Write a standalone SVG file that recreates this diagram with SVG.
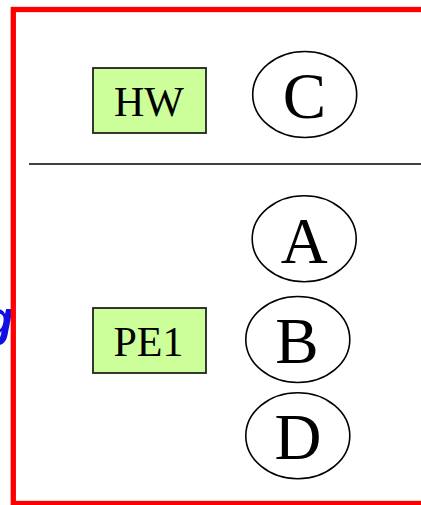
<svg xmlns="http://www.w3.org/2000/svg" width="421" height="505" viewBox="0 0 421 505">
  <style>
    .box { fill: #ccff99; stroke: #222; stroke-width: 1.8; }
    .boxlabel { font-family: "Liberation Serif", "Times New Roman", serif; font-size: 42px; fill: #000; text-anchor: middle; }
    .oval { fill: #fff; stroke: #000; stroke-width: 1.6; }
    .ovallabel { font-family: "Liberation Serif", "Times New Roman", serif; font-size: 65px; fill: #000; text-anchor: middle; }
  </style>
  <rect width="421" height="505" fill="#fff"/>

  <!-- stray blue mark at the left margin -->
  <text x="-17" y="336" font-family="Liberation Sans, Arial, sans-serif" font-style="italic" font-weight="bold" font-size="50" fill="#1010e0">g</text>

  <!-- red frame -->
  <rect x="13.3" y="9.5" width="420" height="494" fill="none" stroke="#ff0000" stroke-width="5.3"/>

  <!-- divider -->
  <g id="connectors">
    <line x1="29" y1="164" x2="421" y2="164" stroke="#000" stroke-width="1.6"/>
  </g>

  <g id="hw">
    <rect class="box" x="93" y="68" width="113" height="65"/>
    <text class="boxlabel" x="149" y="116">HW</text>
  </g>
  <g id="pe1">
    <rect class="box" x="93" y="308" width="113" height="65"/>
    <text class="boxlabel" x="148.5" y="355.5">PE1</text>
  </g>

  <g id="c">
    <ellipse class="oval" cx="304.7" cy="94.5" rx="52" ry="43"/>
    <text class="ovallabel" x="304.5" y="118">C</text>
  </g>
  <g id="a">
    <ellipse class="oval" cx="304.2" cy="238.7" rx="52" ry="43"/>
    <text class="ovallabel" x="304.3" y="262.7">A</text>
  </g>
  <g id="b">
    <ellipse class="oval" cx="297.8" cy="339.5" rx="52" ry="43"/>
    <text class="ovallabel" x="297" y="363.3">B</text>
  </g>
  <g id="d">
    <ellipse class="oval" cx="297.8" cy="435.8" rx="52" ry="43"/>
    <text class="ovallabel" x="298" y="459.3">D</text>
  </g>
</svg>
